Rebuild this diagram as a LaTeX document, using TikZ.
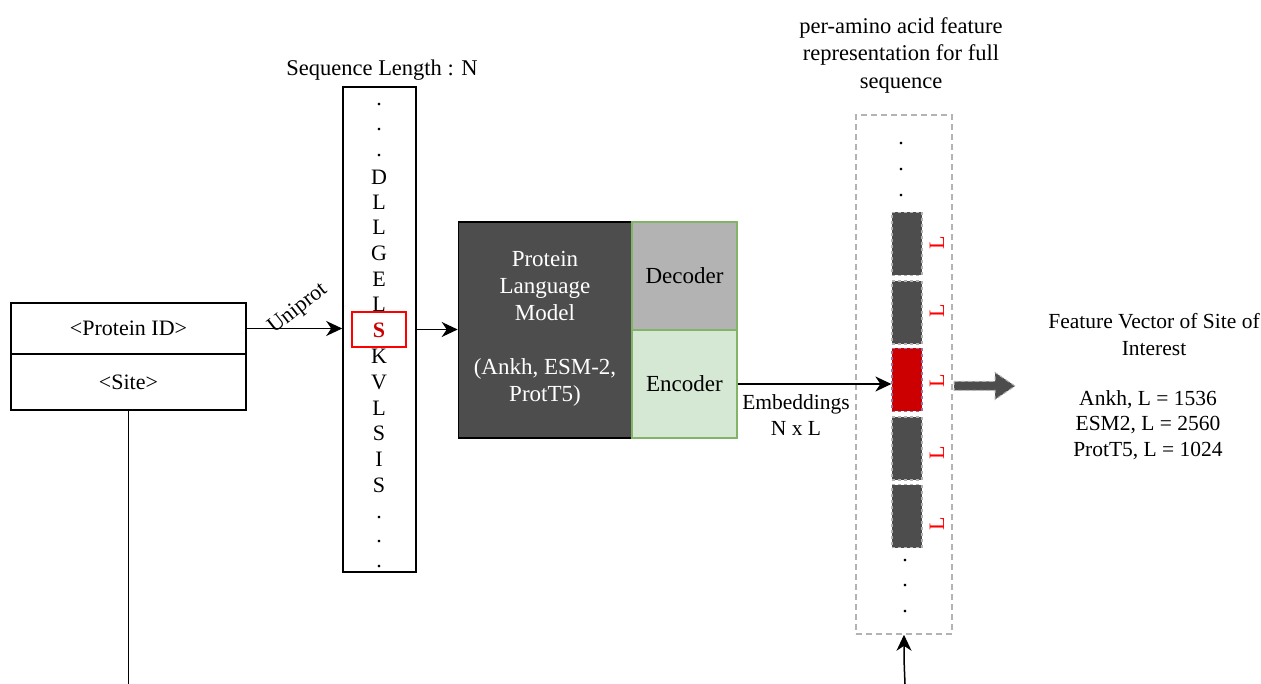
\documentclass[tikz,border=0pt]{standalone}
\usepackage{fontspec}
\setmainfont{Liberation Serif}
\usetikzlibrary{arrows.meta}
\definecolor{plmgray}{HTML}{4D4D4D}
\definecolor{decgray}{HTML}{B3B3B3}
\definecolor{encgreen}{HTML}{D5E8D4}
\definecolor{greenborder}{HTML}{82B366}
\definecolor{dashgray}{HTML}{B3B3B3}
\definecolor{siteRed}{HTML}{CC0000}
\definecolor{purpleborder}{HTML}{9673A6}
\tikzset{
  txt/.style={font=\fontsize{22}{26}\selectfont, align=center, inner sep=0pt},
  boxed/.style={draw=black, line width=1.6pt, inner sep=0pt},
  arr/.style={draw=black, line width=1.5pt, -{Stealth[length=16pt,width=15pt,inset=5pt]}},
  bar/.style={fill=plmgray, draw=dashgray, dashed, line width=1.2pt, minimum width=30pt, minimum height=63pt, inner sep=0pt},
  lab/.style={txt, text=red, rotate=90},
  dotnode/.style={txt, anchor=base},
  flexarrow/.style={fill=plmgray, draw=dashgray, dashed, dash pattern=on 4pt off 3pt, line width=1pt},
}
\begin{document}
\begin{tikzpicture}[x=1pt,y=-1pt]
\useasboundingbox (0,0) rectangle (1261,684);
% left input box
\node[boxed, txt, minimum width=235pt, minimum height=51pt] (pid) at (128.5,328.5) {<Protein ID>};
\node[boxed, txt, minimum width=235pt, minimum height=56pt] (site) at (128.5,382) {<Site>};
\coordinate (siteout) at (128.5,684);
\draw[line width=1.6pt] (site.south) -- (siteout);
% sequence
\node[txt, font=\fontsize{22.5}{26}\selectfont] (seqtitle) at (382,70) {Sequence Length : N};
\node[boxed, minimum width=73pt, minimum height=485pt] (seq) at (379.5,329.5) {};
\foreach \y [count=\i] in {104,129,155} {\node[dotnode] (sd\i) at (379,\y+2) {.};}
\foreach \t/\y [count=\i] in {D/177,L/202,L/227,G/253,E/279,L/304,K/356,V/382,L/408,S/433,I/459,S/485} {
  \node[txt] (sl\i) at (379,\y) {\t};
}
\foreach \y [count=\i] in {516,540,565} {\node[dotnode] (se\i) at (379,\y+2) {.};}
\node[draw=red, line width=1.5pt, minimum width=54pt, minimum height=35pt, inner sep=0pt] (sbox) at (379,329.5) {};
\node[txt, text=siteRed, font=\fontsize{22}{26}\selectfont\bfseries] (sres) at (379,330) {S};
% uniprot arrow
\draw[arr] (pid.east) -- (pid.east -| seq.west);
\node[txt, rotate=38] (uni) at (298,309) {Uniprot};
% PLM
\node[boxed, fill=plmgray, minimum width=173pt, minimum height=216pt] (plm) at (545,330) {};
\node[txt, text=white, font=\fontsize{23}{27}\selectfont] (plmtxt) at (545,329) {Protein\\Language\\Model\\[27pt](Ankh, ESM-2,\\ProtT5)};
\node[draw=greenborder, line width=1.5pt, fill=decgray, minimum width=105pt, minimum height=108pt, inner sep=0pt, txt, font=\fontsize{23}{27}\selectfont] (dec) at (684.5,276) {Decoder};
\node[draw=greenborder, line width=1.5pt, fill=encgreen, minimum width=105pt, minimum height=108pt, inner sep=0pt, txt, font=\fontsize{23}{27}\selectfont] (enc) at (684.5,384) {Encoder};
\draw[arr] (sbox.east -| seq.east) -- (sbox.east -| plm.west);
% feature representation
\node[txt, font=\fontsize{22.5}{27.5}\selectfont] (toplab) at (901,55) {per-amino acid feature\\representation for full\\sequence};
\node[draw=dashgray, dashed, dash pattern=on 6pt off 4pt, line width=1.5pt, minimum width=96pt, minimum height=519pt, inner sep=0pt] (outer) at (904,374.5) {};
\foreach \y [count=\i] in {143,169,195} {\node[dotnode] (fd\i) at (901,\y+2) {.};}
\foreach \y [count=\i] in {559,584,610} {\node[dotnode] (fe\i) at (905,\y+2) {.};}
\node[bar] (b1) at (907,244) {};
\node[bar] (b2) at (907,312.5) {};
\node[bar, fill=siteRed, draw=purpleborder] (b3) at (907,380) {};
\node[bar] (b4) at (907,448.5) {};
\node[bar] (b5) at (907,516) {};
\foreach \i/\y in {1/243,2/311,3/381,4/453,5/524} {\node[lab] (L\i) at (937,\y) {L};}
\draw[arr] (enc.east) -- (enc.east -| b3.west);
\node[txt, font=\fontsize{21.5}{26}\selectfont] (emb) at (796,415) {Embeddings\\N x L};
\coordinate (featsrc) at (905,684);
\draw[arr] (featsrc) .. controls (904,660) .. (outer.south);
% output arrow (flex arrow from the column)
\coordinate (outstart) at (954,386);
\coordinate (outend) at (1015,386);
\draw[flexarrow] (outstart) ++(0,-4.5) -- ++(41,0) -- ++(0,-9) -- (outend) -- ++(-20,13.5) -- ++(0,-9) -- ++(-41,0) -- cycle;
\node[txt, font=\fontsize{21.5}{27}\selectfont] (feat) at (1154,334.5) {Feature Vector of Site of\\Interest};
\node[txt, font=\fontsize{21.5}{25.5}\selectfont] (vals) at (1148,425) {Ankh, L = 1536\\ESM2, L = 2560\\ProtT5, L = 1024};
\end{tikzpicture}
\end{document}
